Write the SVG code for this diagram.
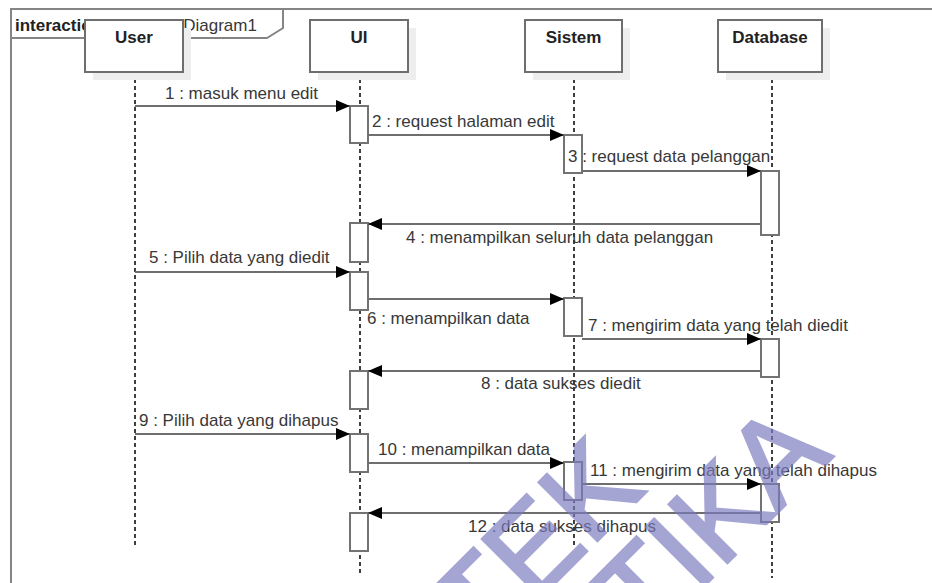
<svg xmlns="http://www.w3.org/2000/svg" width="932" height="583" viewBox="0 0 932 583">
<defs>
<marker id="arr" markerUnits="userSpaceOnUse" markerWidth="15" markerHeight="12" refX="14" refY="6" orient="auto">
<path d="M0,0 L14,6 L0,12 Z" fill="#000"/>
</marker>
<style>
.frame{fill:none;stroke:#858585;stroke-width:2}
.shadow{fill:#eeeeee}
.head{fill:#fff;stroke:#6e6e6e;stroke-width:2}
.life{stroke:#000;stroke-width:1.5;stroke-dasharray:4 3;fill:none}
.act{fill:#fff;stroke:#737373;stroke-width:2}
.msg{stroke:#6e6e6e;stroke-width:2;fill:none;marker-end:url(#arr)}
text{font-family:"Liberation Sans",Arial,sans-serif;font-size:17px;fill:#383838}
.hd{font-weight:bold;fill:#222;text-anchor:middle}
.wm{font-size:120px;fill:#7b7bc0;stroke:#7b7bc0;stroke-width:3;opacity:0.68}
</style>
</defs>
<rect width="932" height="583" fill="#fff"/>
<g id="frame">
<path class="frame" d="M11,590 L11,9 L935,9"/>
<path class="frame" d="M11,38 L267,38 L283,28 L283,9"/>
<text x="15" y="31"><tspan font-weight="bold" fill="#222">interaction</tspan> SequenceDiagram1</text>
</g>
<g id="lifelines">
<line class="life" x1="135" y1="72" x2="135" y2="547"/>
<line class="life" x1="360" y1="72" x2="360" y2="573"/>
<line class="life" x1="574" y1="72" x2="574" y2="548"/>
<line class="life" x1="772" y1="72" x2="772" y2="578"/>
</g>
<g id="User">
<rect class="shadow" x="93" y="28" width="98" height="52"/>
<rect class="head" x="85" y="20" width="98" height="52"/>
<text class="hd" x="134" y="43">User</text>
</g>
<g id="UI">
<rect class="shadow" x="318" y="28" width="98" height="52"/>
<rect class="head" x="310" y="20" width="98" height="52"/>
<text class="hd" x="359" y="43">UI</text>
</g>
<g id="Sistem">
<rect class="shadow" x="533" y="28" width="97" height="52"/>
<rect class="head" x="525" y="20" width="97" height="52"/>
<text class="hd" x="573.5" y="43">Sistem</text>
</g>
<g id="Database">
<rect class="shadow" x="726" y="28" width="104" height="52"/>
<rect class="head" x="718" y="20" width="104" height="52"/>
<text class="hd" x="770" y="43">Database</text>
</g>
<g id="activations">
<rect class="act" x="350" y="106" width="18" height="37"/>
<rect class="act" x="350" y="223" width="18" height="39"/>
<rect class="act" x="350" y="272" width="18" height="38"/>
<rect class="act" x="350" y="371" width="18" height="38"/>
<rect class="act" x="350" y="434" width="18" height="38"/>
<rect class="act" x="350" y="513" width="18" height="38"/>
<rect class="act" x="564" y="135" width="18" height="38"/>
<rect class="act" x="564" y="298" width="18" height="38"/>
<rect class="act" x="564" y="462" width="18" height="38"/>
<rect class="act" x="761" y="171" width="18" height="64"/>
<rect class="act" x="761" y="339" width="18" height="38"/>
<rect class="act" x="761" y="484" width="18" height="38"/>
</g>
<g id="connectors">
<line class="msg" x1="135" y1="106" x2="350" y2="106"/>
<line class="msg" x1="368" y1="135" x2="564" y2="135"/>
<line class="msg" x1="582" y1="171" x2="761" y2="171"/>
<line class="msg" x1="761" y1="224" x2="368" y2="224"/>
<line class="msg" x1="135" y1="272" x2="350" y2="272"/>
<line class="msg" x1="368" y1="299" x2="564" y2="299"/>
<line class="msg" x1="582" y1="339" x2="761" y2="339"/>
<line class="msg" x1="761" y1="371" x2="368" y2="371"/>
<line class="msg" x1="135" y1="434" x2="350" y2="434"/>
<line class="msg" x1="368" y1="463" x2="564" y2="463"/>
<line class="msg" x1="582" y1="484" x2="761" y2="484"/>
<line class="msg" x1="761" y1="513" x2="368" y2="513"/>
</g>
<g id="labels">
<text x="165" y="99">1 : masuk menu edit</text>
<text x="372" y="127">2 : request halaman edit</text>
<text x="568" y="162">3 : request data pelanggan</text>
<text x="406" y="243">4 : menampilkan seluruh data pelanggan</text>
<text x="149" y="263">5 : Pilih data yang diedit</text>
<text x="367" y="324">6 : menampilkan data</text>
<text x="588" y="331">7 : mengirim data yang telah diedit</text>
<text x="481" y="389">8 : data sukses diedit</text>
<text x="139" y="426">9 : Pilih data yang dihapus</text>
<text x="378" y="455">10 : menampilkan data</text>
<text x="590" y="476">11 : mengirim data yang telah dihapus</text>
<text x="468" y="532">12 : data sukses dihapus</text>
</g>
<g id="watermark">
<text class="wm" x="482" y="656" transform="rotate(-45 482 656)">TEK</text>
<text class="wm" x="645" y="645" transform="rotate(-45 645 645)">TIKA</text>
</g>
</svg>
